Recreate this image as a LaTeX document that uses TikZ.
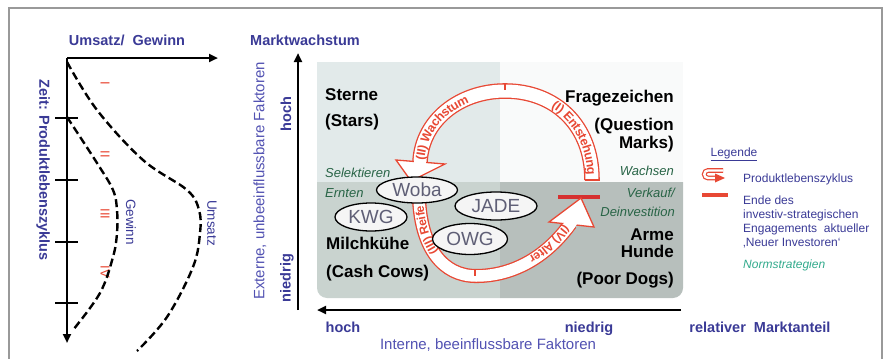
\documentclass[tikz,border=0pt]{standalone}
\usepackage{fontspec}
\setmainfont{Liberation Sans}
\usetikzlibrary{decorations.text,arrows.meta,shapes.geometric}
\definecolor{bl}{RGB}{58,58,150}
\definecolor{bl2}{RGB}{82,82,178}
\definecolor{arr}{RGB}{232,72,52}
\definecolor{dred}{RGB}{214,48,48}
\definecolor{gr}{RGB}{40,100,70}
\definecolor{teal2}{RGB}{50,170,140}
\definecolor{firmtxt}{RGB}{95,95,118}
\definecolor{qa}{RGB}{226,234,234}
\definecolor{qb}{RGB}{249,250,250}
\definecolor{qc}{RGB}{201,211,207}
\definecolor{qd}{RGB}{183,191,188}
\newcommand\myfs[1]{\fontsize{#1}{#1}\selectfont}
\tikzset{
  lbl/.style={font=\myfs{14.5}\bfseries, text=bl, inner sep=0},
  vlbl/.style={font=\myfs{15}, text=bl2, inner sep=0},
  quad/.style={font=\myfs{17}\bfseries, text=black, inner sep=0},
  grn/.style={font=\myfs{13}\itshape, text=gr, inner sep=0},
  leg/.style={font=\myfs{12}, text=bl, inner sep=0},
  roman/.style={font=\myfs{13}, text=arr, inner sep=0, rotate=-90},
  curvelbl/.style={font=\myfs{13.5}, text=bl, inner sep=0, rotate=-90},
  firm/.style={ellipse, draw=black, line width=1.3, fill=white!92!gray, inner sep=0,
    font=\myfs{19}, text=firmtxt},
  axisarrow/.style={line width=2.8, -{Triangle[length=9pt,width=8pt]}},
  tickmark/.style={line width=1.3},
  dashcurve/.style={line width=2.4, dash pattern=on 8pt off 4pt},
  band/.style={draw=arr, line width=1.3, double=white, double distance=13pt},
  bandlow/.style={draw=arr, line width=1.3, double=white, double distance=11.5pt},
  headshape/.style={fill=white, draw=arr, line width=1.3, line join=miter},
  patch/.style={draw=white, line width=12.8pt},
}
\begin{document}
\begin{tikzpicture}[x=1pt,y=1pt]
\useasboundingbox (0,0) rectangle (887,-359);
% frame
\draw[gray!80, line width=1.5] (9,-359) -- (9,-8) -- (882,-8) -- (882,-359);

% ---------- left panel ----------
\node[lbl, anchor=base] (umsgew) at (127,-45) {Umsatz/\ \ Gewinn};
\coordinate (o) at (67,-58);
\coordinate (xend) at (218,-58);
\coordinate (yend) at (67,-343);
\draw[axisarrow] (o) -- (xend);
\draw[axisarrow] (o) -- (yend);
\foreach \t in {118,180,242,303}{\draw[tickmark] (55,-\t) -- (78,-\t);}
\node[lbl, rotate=-90] (zeit) at (43,-170) {Zeit: Produktlebenszyklus};
\node[roman] (r1) at (105,-83) {I};
\node[roman] (r2) at (105,-154) {II};
\node[roman] (r3) at (105,-214) {III};
\node[roman] (r4) at (105,-272) {IV};
\draw[dashcurve] plot[smooth, tension=0.6] coordinates {(67,-62) (97,-110) (143,-160) (187,-190) (199,-210) (200,-233) (193,-267) (167,-317) (137,-351)};
\draw[dashcurve] plot[smooth, tension=0.6] coordinates {(67,-117) (97,-163) (113,-190) (117,-210) (117,-233) (113,-257) (100,-293) (73,-330)};
\node[curvelbl] (gew) at (131,-222) {Gewinn};
\node[curvelbl] (ums) at (212,-223) {Umsatz};

% ---------- right panel: quadrants ----------
\fill[qa] (317,-62) rectangle (500,-182);
\fill[qb] (500,-62) rectangle (683,-182);
\fill[qc] (500,-182) -- (317,-182) -- (317,-288) arc[start angle=180, end angle=270, radius=10] -- (500,-298) -- cycle;
\fill[qd] (500,-182) -- (683,-182) -- (683,-288) arc[start angle=0, end angle=-90, radius=10] -- (500,-298) -- cycle;

% axes
\coordinate (vb) at (298,-310);
\coordinate (vt) at (298,-53);
\coordinate (hr) at (681,-310);
\coordinate (hl) at (317,-310);
\draw[axisarrow] (vb) -- (vt);
\draw[axisarrow] (hr) -- (hl);
\node[lbl, anchor=base] (mw) at (305,-45) {Marktwachstum};
\node[vlbl, rotate=90] (ext) at (260,-181) {Externe, unbeeinflussbare Faktoren};
\node[lbl, rotate=90] (vhoch) at (286,-114) {hoch};
\node[lbl, rotate=90] (vnied) at (287,-278) {niedrig};
\node[lbl, anchor=base] (hhoch) at (343,-332) {hoch};
\node[lbl, anchor=base] (hnied) at (589,-332) {niedrig};
\node[lbl, anchor=base] (rel) at (760,-332) {relativer\ \ Marktanteil};
\node[vlbl, anchor=base] (int) at (488,-349) {Interne, beeinflussbare Faktoren};

% quadrant names
\node[quad, anchor=base west] (st1) at (325,-100) {Sterne};
\node[quad, anchor=base west] (st2) at (325,-126) {(Stars)};
\node[quad, anchor=base east] (fz1) at (674,-102) {Fragezeichen};
\node[quad, anchor=base east] (fz2) at (674,-130) {(Question};
\node[quad, anchor=base east] (fz3) at (674,-148) {Marks)};
\node[quad, anchor=base west] (mk1) at (326,-249) {Milchkühe};
\node[quad, anchor=base west] (mk2) at (326,-277) {(Cash Cows)};
\node[quad, anchor=base east] (ah1) at (674,-240) {Arme};
\node[quad, anchor=base east] (ah2) at (674,-257) {Hunde};
\node[quad, anchor=base east] (ah3) at (674,-284) {(Poor Dogs)};

% norm strategies
\node[grn, anchor=base east] (wachsen) at (674,-175) {Wachsen};
\node[grn, anchor=base east] (verk) at (675,-197) {Verkauf/};
\node[grn, anchor=base east] (dein) at (675,-216) {Deinvestition};
\node[grn, anchor=base west] (sel) at (325,-177) {Selektieren};
\node[grn, anchor=base west] (ern) at (325,-197) {Ernten};

% end line
\coordinate (el1) at (558,-197);
\coordinate (el2) at (600,-197);
\draw[dred, line width=3.2] (el1) -- (el2);

% ---------- upper arch ----------
\coordinate (ua) at (420,-162);
\coordinate (up) at (505,-91);
\coordinate (ub) at (592,-180);
\draw[band] (ua) .. controls (422,-120) and (460,-91) .. (up) .. controls (555,-91) and (592,-125) .. (ub);
\draw[arr, line width=1.3] (584.5,-180) -- (599.5,-180);
\filldraw[headshape] (396,-160) -- (411,-181) -- (445,-164) -- cycle;
\draw[patch] (420,-155) -- (420,-166);
\draw[arr, line width=1.2] (505,-84) -- (505,-90);
\path[decorate, decoration={text along path, text align={left, left indent=2pt}, raise=-4.5pt,
  text={|\myfs{12.5}\bfseries\color{arr}|(II) Wachstum}}]
  (ua) .. controls (422,-120) and (460,-91) .. (up);
\path[decorate, decoration={text along path, text align={right, right indent=5pt}, raise=-4.5pt,
  text={|\myfs{12.5}\bfseries\color{arr}|(I) Entstehung}}]
  (up) .. controls (555,-91) and (592,-125) .. (ub);

% ---------- lower arch ----------
\coordinate (la) at (419,-198);
\coordinate (lb) at (476,-276);
\coordinate (lc) at (570.5,-223.5);
\draw[bandlow] (la) .. controls (421,-248) and (443,-276) .. (lb) .. controls (515,-276) and (548,-255) .. (lc);
\filldraw[headshape] (549,-222) -- (581,-198) -- (594,-227) -- cycle;
\draw[patch, line width=11.3pt] (566.4,-229.2) -- (573.3,-219.5);
\draw[arr, line width=1.2] (475,-270) -- (475,-276);
\path[decorate, decoration={text along path, text align={left, left indent=5pt}, raise=-4.2pt,
  text={|\myfs{12}\bfseries\color{arr}|(IV) Alter}}]
  (lc) .. controls (548,-255) and (515,-276) .. (lb);
\path[decorate, decoration={text along path, text align={right, right indent=8pt}, raise=-4.2pt,
  text={|\myfs{12}\bfseries\color{arr}|(III) Reife}}]
  (lb) .. controls (443,-276) and (421,-248) .. (la);

% ---------- firms ----------
\node[firm, minimum width=81pt, minimum height=26pt] (woba) at (417,-190) {Woba};
\node[firm, minimum width=72pt, minimum height=28pt] (kwg) at (371,-217) {KWG};
\node[firm, minimum width=82pt, minimum height=28pt] (jade) at (496,-206) {JADE};
\node[firm, minimum width=75pt, minimum height=31pt] (owg) at (470,-239) {OWG};

% ---------- legend ----------
\node[leg, anchor=base] (legt) at (734,-156) {\underline{Legende}};
\coordinate (li1) at (723,-170.5);
\coordinate (li2) at (716,-178);
\draw[arr, line width=1.2, double=white, double distance=2.4pt] (li1) -- (708,-170.5) arc[start angle=90, end angle=270, radius=3.75] -- (li2);
\fill[arr] (715,-173.5) -- (725,-178) -- (715,-182.5) -- cycle;
\node[leg, anchor=base west] (lg1) at (743,-182) {Produktlebenszyklus};
\coordinate (lr1) at (702,-195);
\coordinate (lr2) at (728,-195);
\draw[arr, line width=3.2] (lr1) -- (lr2);
\node[leg, anchor=base west] (lg2) at (743,-204) {Ende des};
\node[leg, anchor=base west] (lg3) at (743,-218) {investiv-strategischen};
\node[leg, anchor=base west] (lg4) at (743,-232) {Engagements\ \ aktueller};
\node[leg, anchor=base west] (lg5) at (743,-246) {‚Neuer Investoren‘};
\node[leg, anchor=base west, text=teal2, font=\myfs{12}\itshape] (lg6) at (743,-268) {Normstrategien};
\end{tikzpicture}
\end{document}
